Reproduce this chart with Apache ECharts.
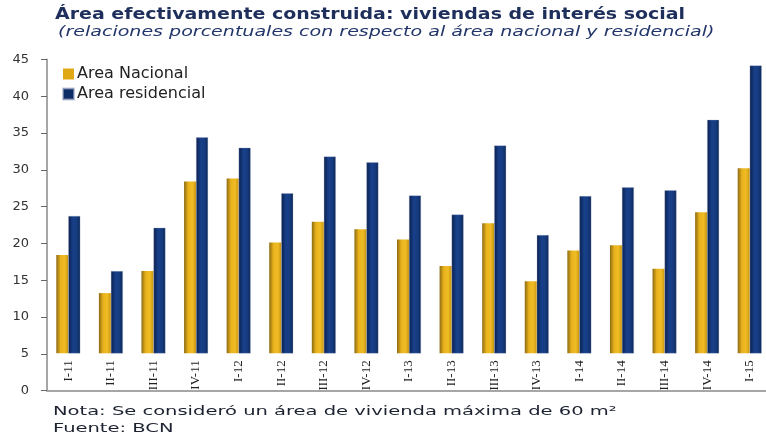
<!DOCTYPE html>
<html>
<head>
<meta charset="utf-8">
<script src="https://cdn.jsdelivr.net/npm/echarts@6/dist/echarts.min.js"></script>
<style>
  html, body { margin: 0; padding: 0; background: #fff; overflow: hidden; }
  /* un poco más ancho que la ventana: el original recorta la última barra */
  #chart { width: 776px; height: 442px; }
</style>
</head>
<body>
<div id="chart"></div>
<script>
// trimestres
var categories = ['I-11', 'II-11', 'III-11', 'IV-11', 'I-12', 'II-12', 'III-12', 'IV-12',
    'I-13', 'II-13', 'III-13', 'IV-13', 'I-14', 'II-14', 'III-14', 'IV-14', 'I-15'];
// % del área nacional
var areaNacional = [18.4, 13.2, 16.2, 28.4, 28.8, 20.1, 22.9, 21.9,
    20.5, 16.9, 22.7, 14.8, 19.0, 19.7, 16.5, 24.2, 30.2];
// % del área residencial
var areaResidencial = [23.7, 16.2, 22.1, 34.4, 33.0, 26.8, 31.8, 31.0,
    26.5, 23.9, 33.3, 21.1, 26.4, 27.6, 27.2, 36.8, 44.2];
var yTicks = [0, 5, 10, 15, 20, 25, 30, 35, 40, 45];

var FONT = 'DejaVu Sans';

var gold = new echarts.graphic.LinearGradient(0, 0, 1, 0, [
    {offset: 0, color: '#8c6a12'},
    {offset: 0.35, color: '#e8b21c'},
    {offset: 0.7, color: '#f0bc25'},
    {offset: 1, color: '#c9960f'}
]);
var navy = new echarts.graphic.LinearGradient(0, 0, 1, 0, [
    {offset: 0, color: '#0a1f4c'},
    {offset: 0.4, color: '#18408a'},
    {offset: 0.7, color: '#163c80'},
    {offset: 1, color: '#0b2656'}
]);

// textos (el original viene estirado en horizontal)
function label(txt, x, y, size, sx, extra) {
    var st = {text: txt, x: 0, y: 0, fontFamily: FONT, fontSize: size, verticalAlign: 'middle', fill: '#1c2230'};
    for (var k in extra) st[k] = extra[k];
    return {type: 'text', x: x, y: y, scaleX: sx, silent: true, style: st};
}

var myChart = echarts.init(document.getElementById('chart'));
var option = {
    animation: false,
    backgroundColor: '#fff',
    textStyle: {fontFamily: FONT},
    graphic: [
        label('Área efectivamente construida: viviendas de interés social', 55, 15, 15, 1.265,
            {fontWeight: 'bold', fill: '#1f2f5c'}),
        label('(relaciones porcentuales con respecto al área nacional y residencial)', 58, 32, 14, 1.36,
            {fontStyle: 'italic', fill: '#23366b'}),
        label('Nota: Se consideró un área de vivienda máxima de 60 m²', 53, 412, 13, 1.5, {}),
        label('Fuente: BCN', 53, 429, 13, 1.5, {})
    ],
    legend: {
        orient: 'vertical',
        left: 62, top: 66,
        padding: 0,
        itemWidth: 11, itemHeight: 11, itemGap: 4,
        icon: 'rect',
        textStyle: {fontFamily: FONT, fontSize: 16, color: '#222', padding: [0, 0, 0, -2]},
        data: [
            {name: 'Area Nacional', itemStyle: {color: '#e0a815'}},
            {name: 'Area residencial', itemStyle: {color: '#0e2d66'}}
        ]
    },
    grid: [
        // marco de ejes 0-45
        {left: 47, right: 5, top: 59.5, bottom: 51.3},
        // barras desde 5
        {left: 47, right: 5, top: 59.5, bottom: 88.7}
    ],
    xAxis: [{
        gridIndex: 0, type: 'category', data: categories,
        axisLine: {lineStyle: {color: '#a6a6a6', width: 2}},
        axisTick: {show: false}, axisLabel: {show: false}
    }, {
        gridIndex: 1, type: 'category', data: categories,
        axisLine: {show: false}, axisTick: {show: false},
        axisLabel: {
            rotate: 90, margin: 7, interval: 0,
            fontFamily: 'Liberation Serif', fontSize: 13, color: '#222'
        }
    }],
    yAxis: [{
        gridIndex: 0, type: 'value', min: 0, max: 45, interval: 5,
        axisLine: {show: true, lineStyle: {color: '#a6a6a6', width: 2}},
        axisTick: {show: true, length: 6, lineStyle: {color: '#666', width: 1}},
        splitLine: {show: false},
        axisLabel: {
            margin: 18, fontFamily: FONT, fontSize: 13, color: '#333',
            formatter: function (v) { return yTicks.indexOf(v) >= 0 ? String(v) : ''; }
        }
    }, {
        gridIndex: 1, type: 'value', min: 5, max: 45, show: false
    }],
    series: [{
        name: 'Area Nacional', type: 'bar',
        xAxisIndex: 1, yAxisIndex: 1,
        barWidth: 12, barGap: '0%',
        itemStyle: {color: gold},
        data: areaNacional
    }, {
        name: 'Area residencial', type: 'bar',
        xAxisIndex: 1, yAxisIndex: 1,
        barWidth: 12, barGap: '0%',
        itemStyle: {color: navy, borderColor: 'rgba(160,170,200,0.6)', borderWidth: 0.5},
        data: areaResidencial
    }]
};
myChart.setOption(option);
</script>
</body>
</html>
